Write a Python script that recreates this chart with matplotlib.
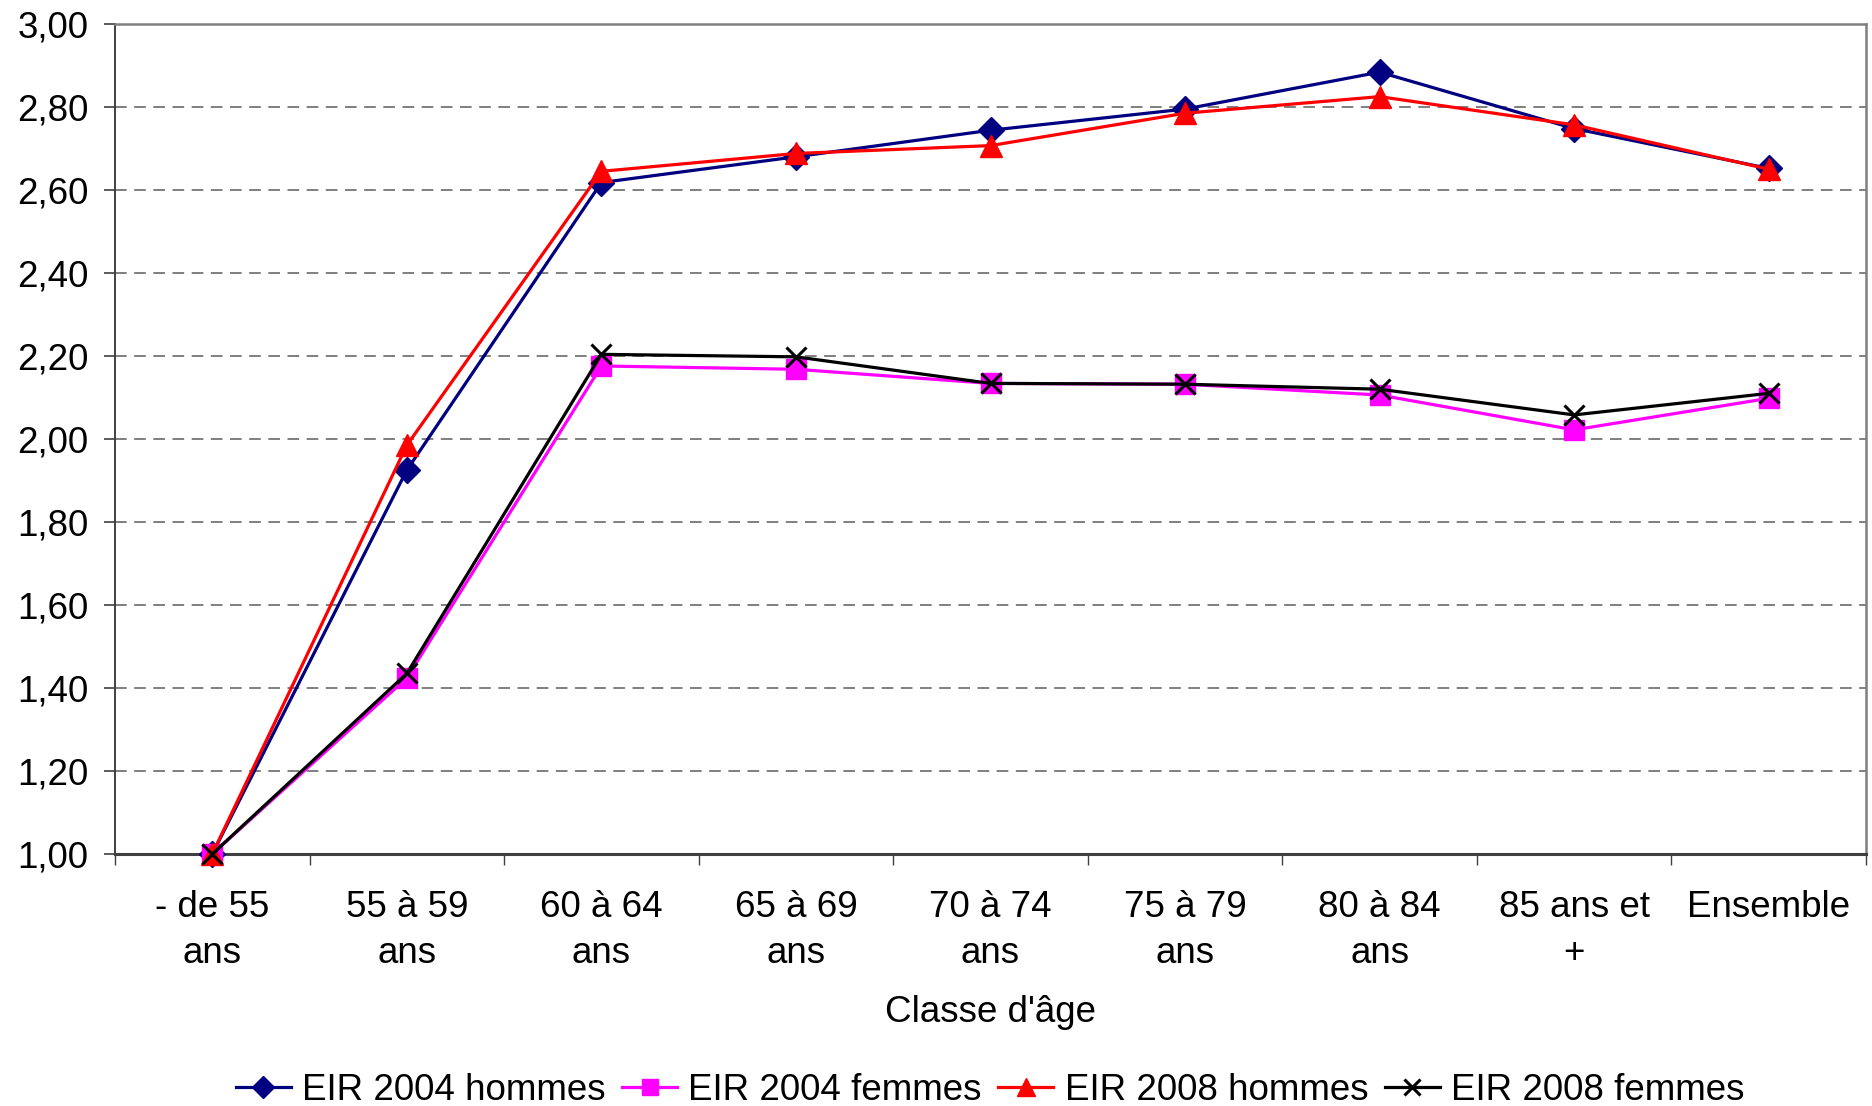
import matplotlib
matplotlib.use("Agg")
import matplotlib.pyplot as plt
from matplotlib.ticker import FuncFormatter, FixedLocator

plt.rcParams['font.family'] = ['Liberation Sans', 'DejaVu Sans']

categories = ["- de 55\nans", "55 à 59\nans", "60 à 64\nans", "65 à 69\nans",
              "70 à 74\nans", "75 à 79\nans", "80 à 84\nans", "85 ans et\n+", "Ensemble"]
eir2004_hommes = [1.00, 1.925, 2.618, 2.680, 2.744, 2.795, 2.884, 2.748, 2.652]
eir2004_femmes = [1.00, 1.424, 2.176, 2.168, 2.134, 2.132, 2.106, 2.022, 2.098]
eir2008_hommes = [1.00, 1.985, 2.645, 2.688, 2.707, 2.785, 2.825, 2.757, 2.650]
eir2008_femmes = [1.00, 1.435, 2.204, 2.198, 2.134, 2.132, 2.120, 2.058, 2.110]
series_labels = ["EIR 2004 hommes", "EIR 2004 femmes", "EIR 2008 hommes", "EIR 2008 femmes"]
y_ticks = [1.0, 1.2, 1.4, 1.6, 1.8, 2.0, 2.2, 2.4, 2.6, 2.8, 3.0]

W, H = 1872, 1106
FS = 26.5
fig = plt.figure(figsize=(W / 100, H / 100), dpi=100)
ax = fig.add_axes([115 / W, 1 - 854 / H, (1866 - 115) / W, (854 - 24) / H])

x = list(range(len(categories)))
styles = [
    dict(color="#000080", marker="D", ms=13.5, mec="#000080", mfc="#000080"),
    dict(color="#FF00FF", marker="s", ms=14, mec="#FF00FF", mfc="#FF00FF"),
    dict(color="#FF0000", marker="^", ms=15.5, mec="#FF0000", mfc="#FF0000"),
    dict(color="#000000", marker="x", ms=14, mec="#000000", mew=2.2),
]
data = [eir2004_hommes, eir2004_femmes, eir2008_hommes, eir2008_femmes]
for d, st, lab in zip(data, styles, series_labels):
    ax.plot(x, d, lw=2.3, label=lab, zorder=3, clip_on=False, **st)

ax.set_xlim(-0.5, len(categories) - 0.5)
ax.set_ylim(1.0, 3.0)
ax.yaxis.set_major_locator(FixedLocator(y_ticks))
ax.yaxis.set_major_formatter(FuncFormatter(lambda v, p: f"{v:.2f}".replace(".", ",")))
ax.set_xticks(x)
ax.set_xticklabels(categories, linespacing=1.4)
ax.set_xticks([i - 0.5 for i in range(len(categories) + 1)], minor=True)

ax.tick_params(axis='y', labelsize=FS, length=8, width=1.2, color="#404040", pad=11)
ax.tick_params(axis='x', which='major', labelsize=FS, length=0, pad=26)
ax.tick_params(axis='x', which='minor', length=8, width=1.0, color="#404040")

ax.grid(axis='y', color="#6a6a6a", lw=1.2, linestyle=(0, (7, 4.5)), zorder=1)
ax.set_axisbelow(True)

for s in ['top', 'right']:
    ax.spines[s].set_color("#808080")
    ax.spines[s].set_linewidth(1.8)
ax.spines['left'].set_color("#404040")
ax.spines['left'].set_linewidth(1.4)
ax.spines['bottom'].set_color("#404040")
ax.spines['bottom'].set_linewidth(2.2)

ax.set_xlabel("Classe d'âge", fontsize=FS, labelpad=17)

fig.legend(loc='center', bbox_to_anchor=(990 / W, 1 - 1090 / H), ncol=4, frameon=False,
           fontsize=FS, handlelength=1.5, handletextpad=0.3, columnspacing=0.45,
           borderaxespad=0, markerscale=0.85)

fig.savefig("out.png", dpi=100)
